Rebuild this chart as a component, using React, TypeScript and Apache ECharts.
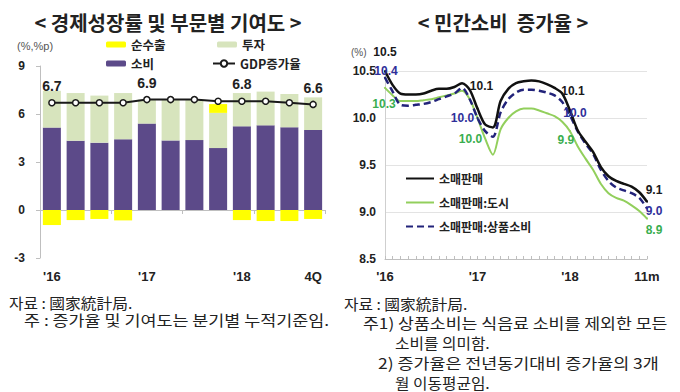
import React, { useEffect, useRef } from "react";
import * as echarts from "echarts";

// ---------- Left chart: GDP growth & contributions ----------
const quarters = [
  "2016 1Q", "2016 2Q", "2016 3Q", "2016 4Q",
  "2017 1Q", "2017 2Q", "2017 3Q", "2017 4Q",
  "2018 1Q", "2018 2Q", "2018 3Q", "2018 4Q",
];
const quarterTickLabels: Record<number, string> = { 0: "'16", 4: "'17", 8: "'18", 11: "4Q" };
const consumption = [5.15, 4.33, 4.21, 4.42, 5.4, 4.35, 4.37, 3.87, 5.23, 5.29, 5.17, 5.0];
const investment = [2.3, 2.98, 2.94, 2.89, 1.5, 2.55, 2.53, 2.2, 2.08, 2.11, 2.08, 2.04];
const netExports = [-0.94, -0.63, -0.56, -0.65, 0, 0, 0, 0.55, -0.63, -0.69, -0.69, -0.56];
const gdpGrowth = [6.7, 6.7, 6.7, 6.7, 6.9, 6.9, 6.9, 6.8, 6.8, 6.8, 6.7, 6.6];
const gdpLabelIdx = [0, 4, 8, 11];

// ---------- Right chart: retail sales growth ----------
const months = [
  "2016.01", "2016.02", "2016.03", "2016.04", "2016.05", "2016.06", "2016.07", "2016.08", "2016.09", "2016.10", "2016.11", "2016.12",
  "2017.01", "2017.02", "2017.03", "2017.04", "2017.05", "2017.06", "2017.07", "2017.08", "2017.09", "2017.10", "2017.11", "2017.12",
  "2018.01", "2018.02", "2018.03", "2018.04", "2018.05", "2018.06", "2018.07", "2018.08", "2018.09", "2018.10", "2018.11",
];
const monthTickLabels: Record<number, string> = { 0: "'16", 12: "'17", 24: "'18", 34: "11m" };
const retail = [10.5, 10.35, 10.26, 10.25, 10.25, 10.26, 10.29, 10.31, 10.31, 10.33, 10.37, 10.3, 10.1, 9.93, 9.9, 10.18, 10.31, 10.37, 10.39, 10.4, 10.39, 10.36, 10.32, 10.26, 10.08, 9.87, 9.75, 9.64, 9.48, 9.38, 9.33, 9.3, 9.27, 9.21, 9.11];
const retailUrban = [10.32, 10.24, 10.18, 10.18, 10.18, 10.19, 10.2, 10.22, 10.24, 10.26, 10.29, 10.2, 10.0, 9.78, 9.61, 9.88, 10.0, 10.07, 10.1, 10.1, 10.08, 10.05, 10.02, 9.96, 9.86, 9.7, 9.57, 9.45, 9.3, 9.2, 9.15, 9.12, 9.07, 9.01, 8.93];
const retailGoods = [10.43, 10.28, 10.14, 10.13, 10.14, 10.15, 10.17, 10.2, 10.23, 10.26, 10.32, 10.2, 10.0, 9.86, 9.8, 10.06, 10.2, 10.27, 10.3, 10.3, 10.29, 10.27, 10.24, 10.17, 10.03, 9.86, 9.73, 9.62, 9.45, 9.33, 9.26, 9.23, 9.2, 9.15, 9.04];

// label offsets (styling) for labelled points
const retailLabelOffsets: Record<number, number[]> = { 0: [0, -19], 12: [4, -23], 24: [3, -19], 34: [7, -12] };
const goodsLabelOffsets: Record<number, number[]> = { 0: [1, -7], 12: [-15, 0], 24: [5, -2], 34: [7, 3] };
const urbanLabelOffsets: Record<number, number[]> = { 0: [-1, 16], 12: [-7, 21], 24: [-4, 9], 34: [7, 11] };

const NUM_FONT = "'Liberation Sans', Arial, 'Noto Sans CJK KR', sans-serif";
const KR_FONT = "'Noto Sans CJK KR', 'Liberation Sans', sans-serif";
const TXT = "#222";

function labelledLine(vals: number[], offs: Record<number, number[]>, color: string) {
  return vals.map((v, i) =>
    offs[i]
      ? {
          value: v,
          symbol: "circle",
          symbolSize: 2,
          label: {
            show: true,
            position: "inside",
            offset: offs[i],
            color,
            fontSize: 12,
            lineHeight: 12,
            fontWeight: "bold",
            fontFamily: NUM_FONT,
            formatter: (p: any) => Number(p.value).toFixed(1),
          },
        }
      : { value: v, symbol: "none" }
  );
}

function foot(x: number, y: number, text: string, sx: number) {
  return {
    type: "text",
    x,
    y,
    scaleX: sx,
    style: { text, fontSize: 15, lineHeight: 15, fill: TXT, fontFamily: KR_FONT, verticalAlign: "middle" },
  };
}

function buildOption(): any {
  const legendText = { fontSize: 12.5, lineHeight: 13, fontWeight: "bold", color: TXT, fontFamily: KR_FONT };
  const legendTextR = { fontSize: 12, lineHeight: 13, fontWeight: "bold", color: TXT, fontFamily: KR_FONT };
  return {
    animation: false,
    backgroundColor: "#fff",
    grid: [
      { left: 40, top: 66, width: 285, height: 192 },
      { left: 385, top: 71, width: 262, height: 188 },
    ],
    legend: [
      { data: ["순수출"], left: 106, top: 38, padding: 0, itemWidth: 20, itemHeight: 6, selectedMode: false, textStyle: legendText },
      { data: ["투자"], left: 217, top: 38, padding: 0, itemWidth: 20, itemHeight: 6, selectedMode: false, textStyle: legendText },
      { data: ["소비"], left: 106, top: 57, padding: 0, itemWidth: 20, itemHeight: 6, selectedMode: false, textStyle: legendText },
      { data: ["GDP증가율"], left: 212, top: 57, padding: 0, itemWidth: 22, itemHeight: 8, itemGap: 2, selectedMode: false, textStyle: legendText },
      {
        data: ["소매판매", "소매판매:도시", "소매판매:상품소비"],
        orient: "vertical",
        left: 405,
        top: 172,
        padding: 0,
        itemGap: 11,
        itemWidth: 28,
        itemHeight: 3,
        selectedMode: false,
        itemStyle: { opacity: 0 },
        textStyle: legendTextR,
      },
    ],
    xAxis: [
      {
        gridIndex: 0,
        type: "category",
        data: quarters,
        boundaryGap: true,
        axisLine: { show: true, onZero: true, lineStyle: { color: "#bfbfbf", width: 1 } },
        axisTick: { show: true, length: 4, lineStyle: { color: "#bfbfbf" } },
        axisLabel: { show: false },
      },
      {
        gridIndex: 0,
        type: "category",
        data: quarters,
        position: "bottom",
        boundaryGap: true,
        axisLine: { show: false, onZero: false },
        axisTick: { show: false },
        axisLabel: {
          interval: 0,
          margin: 12,
          fontSize: 13,
          fontWeight: "bold",
          color: TXT,
          fontFamily: NUM_FONT,
          formatter: (_v: string, i: number) => quarterTickLabels[i] ?? "",
        },
      },
      {
        gridIndex: 1,
        type: "category",
        data: months,
        boundaryGap: false,
        axisLine: { show: true, onZero: false, lineStyle: { color: "#bfbfbf" } },
        axisTick: { show: true, inside: true, length: 3, interval: 0, lineStyle: { color: "#bfbfbf" } },
        axisLabel: {
          interval: 0,
          margin: 11,
          fontSize: 13,
          fontWeight: "bold",
          color: TXT,
          fontFamily: NUM_FONT,
          formatter: (_v: string, i: number) => monthTickLabels[i] ?? "",
        },
      },
    ],
    yAxis: [
      {
        gridIndex: 0,
        type: "value",
        min: -3,
        max: 9,
        interval: 3,
        axisLine: { show: true, onZero: false, lineStyle: { color: "#bfbfbf" } },
        axisTick: { show: true, length: 4, lineStyle: { color: "#bfbfbf" } },
        splitLine: { show: false },
        axisLabel: { margin: 15, fontSize: 12, fontWeight: "bold", color: TXT, fontFamily: NUM_FONT },
      },
      {
        gridIndex: 1,
        type: "value",
        min: 8.5,
        max: 10.5,
        interval: 0.5,
        axisLine: { show: true, onZero: false, lineStyle: { color: "#cfcfcf" } },
        axisTick: { show: false },
        splitLine: { show: true, lineStyle: { color: "#e3e3e3" } },
        axisLabel: {
          margin: 9,
          fontSize: 12,
          fontWeight: "bold",
          color: TXT,
          fontFamily: NUM_FONT,
          formatter: (v: number) => v.toFixed(1),
        },
      },
    ],
    series: [
      {
        name: "소비",
        type: "bar",
        xAxisIndex: 0,
        yAxisIndex: 0,
        stack: "gdp",
        barWidth: 18,
        itemStyle: { color: "#5c4a89" },
        data: consumption,
      },
      {
        name: "투자",
        type: "bar",
        xAxisIndex: 0,
        yAxisIndex: 0,
        stack: "gdp",
        barWidth: 18,
        itemStyle: { color: "#d7e4bd" },
        data: investment,
      },
      {
        name: "순수출",
        type: "bar",
        xAxisIndex: 0,
        yAxisIndex: 0,
        stack: "gdp",
        barWidth: 18,
        itemStyle: { color: "#ffff00" },
        data: netExports,
      },
      {
        name: "GDP증가율",
        type: "line",
        xAxisIndex: 0,
        yAxisIndex: 0,
        symbol: "circle",
        symbolSize: 6,
        showAllSymbol: true,
        z: 5,
        lineStyle: { color: "#1a1a1a", width: 2 },
        itemStyle: { color: "#ffffff", borderColor: "#1a1a1a", borderWidth: 1.5 },
        data: gdpGrowth.map((v, i) => ({
          value: v,
          label: {
            show: gdpLabelIdx.includes(i),
            position: "top",
            distance: 6,
            fontSize: 14,
            lineHeight: 14,
            fontWeight: "bold",
            color: TXT,
            fontFamily: NUM_FONT,
            formatter: (p: any) => Number(p.value).toFixed(1),
          },
        })),
      },
      {
        name: "소매판매:도시",
        type: "line",
        xAxisIndex: 2,
        yAxisIndex: 1,
        smooth: 0.3,
        showAllSymbol: true,
        clip: false,
        color: "#92cf5c",
        lineStyle: { color: "#92cf5c", width: 2 },
        itemStyle: { color: "#92cf5c" },
        data: labelledLine(retailUrban, urbanLabelOffsets, "#3aae4f"),
      },
      {
        name: "소매판매:상품소비",
        type: "line",
        xAxisIndex: 2,
        yAxisIndex: 1,
        smooth: 0.3,
        showAllSymbol: true,
        clip: false,
        color: "#22237a",
        lineStyle: { color: "#22237a", width: 2.5, type: [7, 4] },
        itemStyle: { color: "#22237a" },
        data: labelledLine(retailGoods, goodsLabelOffsets, "#2f2f9a"),
      },
      {
        name: "소매판매",
        type: "line",
        xAxisIndex: 2,
        yAxisIndex: 1,
        smooth: 0.3,
        showAllSymbol: true,
        clip: false,
        color: "#111111",
        lineStyle: { color: "#111111", width: 2.5 },
        itemStyle: { color: "#111111" },
        data: labelledLine(retail, retailLabelOffsets, "#1a1a1a"),
      },
    ],
    graphic: [
      {
        type: "text",
        x: 168,
        y: 22,
        style: { text: "< 경제성장률 및 부문별 기여도 >", fontSize: 20, fontWeight: "bold", fill: TXT, fontFamily: KR_FONT, align: "center", verticalAlign: "middle" },
      },
      {
        type: "text",
        x: 503,
        y: 22,
        style: { text: "< 민간소비  증가율 >", fontSize: 20, fontWeight: "bold", fill: TXT, fontFamily: KR_FONT, align: "center", verticalAlign: "middle" },
      },
      {
        type: "text",
        x: 17,
        y: 46,
        style: { text: "(%,%p)", fontSize: 11, fill: "#555", fontFamily: NUM_FONT, verticalAlign: "middle" },
      },
      {
        type: "text",
        x: 351,
        y: 52,
        style: { text: "(%)", fontSize: 10, fill: "#555", fontFamily: NUM_FONT, verticalAlign: "middle" },
      },
      foot(9, 302, "자료 : 國家統計局.", 1.05),
      foot(24, 320, "주 : 증가율 및 기여도는 분기별 누적기준임.", 1.16),
      foot(344, 303, "자료 : 國家統計局.", 1.05),
      foot(363, 323, "주1) 상품소비는 식음료 소비를 제외한 모든", 1.15),
      foot(395, 342, "소비를 의미함.", 1.05),
      foot(378, 363, "2) 증가율은 전년동기대비 증가율의 3개", 1.16),
      foot(395, 382, "월 이동평균임.", 1.05),
    ],
  };
}

export default function App() {
  const ref = useRef<HTMLDivElement>(null);
  useEffect(() => {
    if (!ref.current) return;
    const chart = echarts.init(ref.current, undefined, { renderer: "svg" });
    chart.setOption(buildOption());
    return () => chart.dispose();
  }, []);
  return (
    <div
      ref={ref}
      style={{ position: "absolute", left: 0, top: 0, width: 680, height: 392, background: "#fff" }}
    />
  );
}
